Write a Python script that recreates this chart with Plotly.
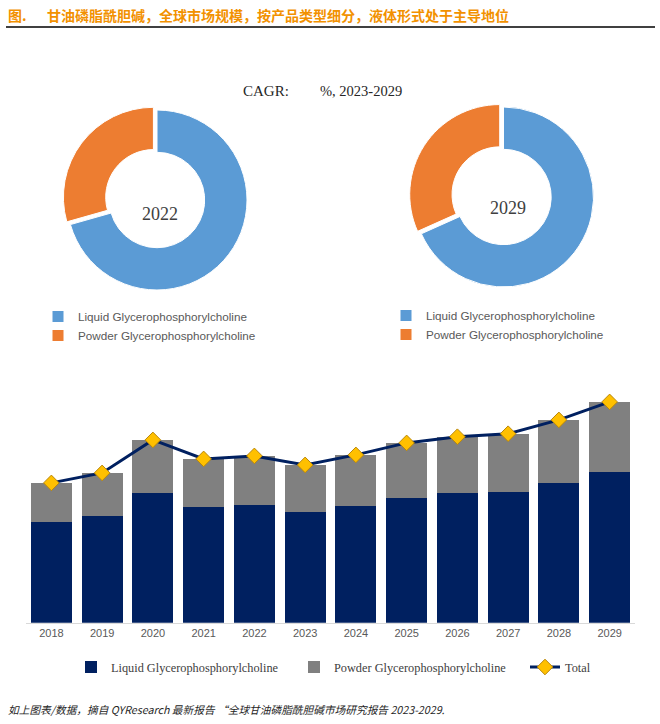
import plotly.graph_objects as go

W, H = 660, 724

years = ["2018", "2019", "2020", "2021", "2022", "2023", "2024", "2025", "2026", "2027", "2028", "2029"]
liquid = [50.4, 53.4, 64.9, 57.9, 58.9, 55.4, 58.4, 62.4, 64.9, 65.4, 69.9, 75.4]
powder = [19.5, 21.5, 26.5, 24.0, 24.5, 23.5, 25.5, 27.5, 28.1, 29.1, 31.5, 35.0]
total = [round(a + b, 1) for a, b in zip(liquid, powder)]

pie_labels = ["Liquid Glycerophosphorylcholine", "Powder Glycerophosphorylcholine"]
pie_2022 = [70.6, 29.4]
pie_2029 = [68.3, 31.7]

NAVY = "#002060"
GRAY = "#808080"
BLUE = "#5B9BD5"
ORANGE = "#ED7D31"
TITLE_ORANGE = "#F29100"


def px_x(p):
    return p / W


def px_y(p):
    return 1 - p / H


fig = go.Figure()


def pie_domain(cx, cy, side):
    return dict(x=[px_x(cx - side / 2), px_x(cx + side / 2)],
                y=[px_y(cy + side / 2), px_y(cy - side / 2)])


pull = 0.05
side = 180 * (1 + pull)

fig.add_trace(go.Pie(
    labels=pie_labels, values=pie_2022, hole=0.53, sort=False,
    direction="clockwise", rotation=0, pull=[0, pull],
    marker=dict(colors=[BLUE, ORANGE], line=dict(color="white", width=1)),
    textinfo="none", hoverinfo="label+percent",
    domain=pie_domain(157, 200, side), legend="legend", showlegend=True,
))
# second donut uses its own legend; labels made distinct (trailing space) so both legends list them
fig.add_trace(go.Pie(
    labels=[l + " " for l in pie_labels], values=pie_2029, hole=0.53, sort=False,
    direction="clockwise", rotation=0, pull=[0, pull],
    marker=dict(colors=[BLUE, ORANGE], line=dict(color="white", width=1)),
    textinfo="none", hoverinfo="label+percent",
    domain=pie_domain(503.5, 197, side), legend="legend2", showlegend=True,
))

fig.add_trace(go.Bar(x=years, y=liquid, name="Liquid Glycerophosphorylcholine",
                     marker=dict(color=NAVY, line=dict(width=0)), legend="legend3"))
fig.add_trace(go.Bar(x=years, y=powder, name="Powder Glycerophosphorylcholine",
                     marker=dict(color=GRAY, line=dict(width=0)), legend="legend4"))
fig.add_trace(go.Scatter(x=years, y=total, name="Total", mode="lines+markers",
                         line=dict(color=NAVY, width=3),
                         marker=dict(symbol="diamond", size=12, color="#FFC000",
                                     line=dict(color="#B8860B", width=1)),
                         legend="legend5"))

base = 622.7
top = base - 240

pie_leg_font = dict(family="Liberation Sans", size=11.7, color="#595959")
bar_leg_font = dict(family="Liberation Serif", size=12.3, color="#404040")


def bar_legend(x):
    return dict(orientation="h", x=px_x(x), y=px_y(667), xanchor="left", yanchor="middle",
                font=bar_leg_font, bgcolor="rgba(0,0,0,0)", itemwidth=30)


fig.update_layout(
    width=W, height=H,
    margin=dict(l=0, r=0, t=0, b=0),
    paper_bgcolor="white", plot_bgcolor="white",
    barmode="stack", bargap=0.19,
    xaxis=dict(domain=[px_x(26), px_x(635)], range=[-0.5, 11.5], showgrid=False,
               showline=True, linecolor="#D9D9D9", linewidth=1, ticks="",
               tickfont=dict(family="Liberation Sans", size=11, color="#595959")),
    yaxis=dict(domain=[px_y(base), px_y(top)], range=[0, 120], visible=False,
               showgrid=False, fixedrange=True),
    showlegend=True,
    legend=dict(x=px_x(38), y=px_y(302), xanchor="left", yanchor="top",
                font=pie_leg_font, bgcolor="rgba(0,0,0,0)", itemwidth=30, tracegroupgap=0),
    legend2=dict(x=px_x(386), y=px_y(301), xanchor="left", yanchor="top",
                 font=pie_leg_font, bgcolor="rgba(0,0,0,0)", itemwidth=30, tracegroupgap=0),
    legend3=bar_legend(71),
    legend4=bar_legend(294),
    legend5=bar_legend(525),
    font=dict(family="Liberation Sans"),
)

annotations = [
    dict(text="<b>图.</b>", x=px_x(6), y=px_y(15), xanchor="left", yanchor="middle",
         font=dict(family="Noto Sans CJK SC", size=14, color=TITLE_ORANGE)),
    dict(text="<b>甘油磷脂酰胆碱，全球市场规模，按产品类型细分，液体形式处于主导地位</b>",
         x=px_x(45), y=px_y(15), xanchor="left", yanchor="middle",
         font=dict(family="Noto Sans CJK SC", size=14, color=TITLE_ORANGE)),
    dict(text="CAGR:", x=px_x(241), y=px_y(91), xanchor="left", yanchor="middle",
         font=dict(family="Liberation Serif", size=15, color="#262626")),
    dict(text="%, 2023-2029", x=px_x(318), y=px_y(91), xanchor="left", yanchor="middle",
         font=dict(family="Liberation Serif", size=14.5, color="#262626")),
    dict(text="2022", x=px_x(160), y=px_y(214), xanchor="center", yanchor="middle",
         font=dict(family="Liberation Serif", size=18, color="#404040")),
    dict(text="2029", x=px_x(508), y=px_y(208), xanchor="center", yanchor="middle",
         font=dict(family="Liberation Serif", size=18, color="#404040")),
    dict(text="<i>如上图表/数据，摘自 QYResearch 最新报告 “全球甘油磷脂酰胆碱市场研究报告 2023-2029.</i>",
         x=px_x(6), y=px_y(709), xanchor="left", yanchor="middle",
         font=dict(family="Noto Sans CJK SC", size=10.7, color="#262626")),
]
for a in annotations:
    a.update(xref="paper", yref="paper", showarrow=False)
fig.update_layout(annotations=annotations)

fig.add_shape(type="line", xref="paper", yref="paper",
              x0=px_x(6), x1=px_x(655), y0=px_y(27), y1=px_y(27),
              line=dict(color="black", width=1.5))

fig.write_html("out.html", config={"displayModeBar": False},
               post_script="document.body.style.margin='0';")
